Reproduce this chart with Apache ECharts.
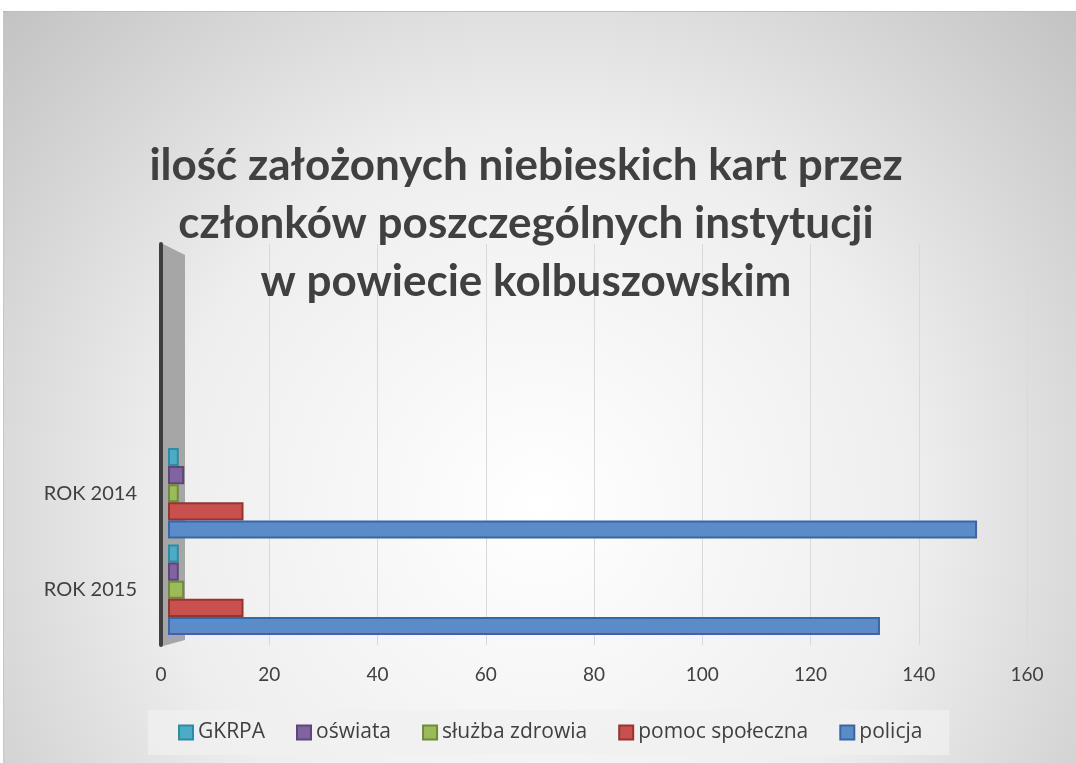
<!DOCTYPE html>
<html>
<head>
<meta charset="utf-8">
<script src="https://cdn.jsdelivr.net/npm/echarts@6/dist/echarts.min.js"></script>
<style>
  html, body { margin: 0; padding: 0; background: #fff; }
  #chart { position: absolute; left: 3px; top: 11px; width: 1073px; height: 752px; border-top: 1px solid #bdbdbd; border-left: 1px solid #c8c8c8; box-sizing: border-box; }
</style>
</head>
<body>
<div id="chart"></div>
<script>
const categories = ['ROK 2015', 'ROK 2014']
const seriesNames = ['GKRPA', 'oświata', 'służba zdrowia', 'pomoc społeczna', 'policja']
const gkrpa = [2, 2]
const oswiata = [2, 3]
const sluzbaZdrowia = [3, 2]
const pomocSpoleczna = [14, 14]
const policja = [132, 150]
const xTicks = { min: 0, max: 160, interval: 20 }

const seriesData = [gkrpa, oswiata, sluzbaZdrowia, pomocSpoleczna, policja]
const fills = ['#4bacc6', '#8064a2', '#9bbb59', '#c8504d', '#5b8bc9']
const borders = ['#2f8aa3', '#5c4776', '#71893f', '#963431', '#3a67a2']
const textColor = '#404040'
const font = 'Lato, "Open Sans", sans-serif'

const dom = document.getElementById('chart')
const chart = echarts.init(dom)

const option = {
  backgroundColor: {
    type: 'radial',
    x: 0.5,
    y: 0.66,
    r: 1.0,
    colorStops: [
      { offset: 0, color: '#ffffff' },
      { offset: 0.5, color: '#eeeeee' },
      { offset: 1, color: '#c0c0c0' }
    ]
  },
  animation: false,
  title: {
    text: 'ilość założonych niebieskich kart przez\nczłonków poszczególnych instytucji\nw powiecie kolbuszowskim',
    left: 517,
    top: 120,
    textAlign: 'center',
    textStyle: {
      fontFamily: font,
      fontWeight: 'bold',
      fontSize: 44,
      lineHeight: 58,
      color: textColor
    }
  },
  legend: {
    data: seriesNames,
    left: 144,
    top: 698,
    padding: [12, 27, 12, 30],
    itemGap: 31,
    itemWidth: 14,
    itemHeight: 14,
    icon: 'rect',
    backgroundColor: 'rgba(240,240,240,0.75)',
    textStyle: { fontFamily: '"Open Sans", sans-serif', fontSize: 21, color: textColor }
  },
  grid: [
    { left: 157, right: 49, top: 232, bottom: 118 },
    { left: 164, right: 45, top: 433, bottom: 125 }
  ],
  xAxis: [
    {
      gridIndex: 0,
      type: 'value',
      min: xTicks.min,
      max: xTicks.max,
      interval: xTicks.interval,
      axisLine: { show: false },
      axisTick: { show: false },
      axisLabel: { fontFamily: font, fontSize: 19, color: textColor, margin: 20 },
      splitLine: { lineStyle: { color: '#d9d9d9', width: 1 } }
    },
    {
      gridIndex: 1,
      type: 'value',
      min: xTicks.min,
      max: xTicks.max,
      show: false
    }
  ],
  yAxis: [
    {
      gridIndex: 0,
      type: 'value',
      min: 0,
      max: 1,
      axisLine: { show: true, lineStyle: { color: '#3f3f3f', width: 4, cap: 'round' } },
      axisTick: { show: false },
      axisLabel: { show: false },
      splitLine: { show: false }
    },
    {
      gridIndex: 1,
      type: 'category',
      data: categories,
      axisLine: { show: false },
      axisTick: { show: false },
      axisLabel: { fontFamily: font, fontSize: 20, color: textColor, margin: 31 }
    }
  ],
  graphic: [
    {
      type: 'polygon',
      z: 1,
      shape: { points: [[159, 232], [181, 243], [181, 628], [159, 634]] },
      style: { fill: '#a6a6a6' }
    }
  ],
  series: seriesNames.map((name, i) => ({
    name: name,
    type: 'bar',
    xAxisIndex: 1,
    yAxisIndex: 1,
    data: seriesData[i],
    barGap: '0%',
    barCategoryGap: '6%',
    z: 3,
    itemStyle: {
      color: fills[i],
      borderColor: borders[i],
      borderWidth: 2
    }
  }))
}

chart.setOption(option)
window.addEventListener('resize', () => chart.resize())
</script>
</body>
</html>
